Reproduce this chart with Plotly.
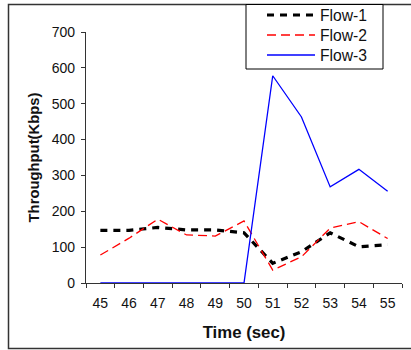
import plotly.graph_objects as go

# ---- data ----
times = ["45", "46", "47", "48", "49", "50", "51", "52", "53", "54", "55"]
flow1 = [147, 147, 155, 148, 148, 140, 55, 87, 140, 101, 107]
flow2 = [78, 125, 178, 134, 131, 173, 36, 73, 153, 171, 124]
flow3 = [0, 0, 0, 0, 0, 0, 578, 463, 268, 317, 256]
names = ["Flow-1", "Flow-2", "Flow-3"]
yticks = [0, 100, 200, 300, 400, 500, 600, 700]

series = [flow1, flow2, flow3]
styles = [
    dict(color="#000000", width=3.2, dash="7px,6px"),
    dict(color="#FF0000", width=1.3, dash="9px,5px"),
    dict(color="#0000FF", width=1.3, dash="solid"),
]

W, H = 411, 350
L, R, T, B = 86, 402, 32, 283  # plot area in pixels

def px(x):
    return (x - L) / (R - L)

def py(y):
    return (B - y) / (B - T)

fig = go.Figure()
for nm, vals, st in zip(names, series, styles):
    fig.add_trace(go.Scatter(x=times, y=vals, mode="lines", name=nm,
                             line=st, showlegend=False))

font_family = "Liberation Sans, Arial, sans-serif"
shapes = [
    # outer frame
    dict(type="rect", xref="paper", yref="paper",
         x0=px(8.5), x1=px(420), y0=py(348.5), y1=py(4.5),
         line=dict(color="#333333", width=1.5), layer="below"),
    # legend box
    dict(type="rect", xref="paper", yref="paper",
         x0=px(246), x1=px(383), y0=py(69), y1=py(4.5),
         line=dict(color="#000000", width=1), fillcolor="white"),
]
annotations = []
for i, (nm, st) in enumerate(zip(names, styles)):
    yy = 15 + 20 * i
    shapes.append(dict(type="line", xref="paper", yref="paper",
                       x0=px(267), x1=px(315), y0=py(yy), y1=py(yy),
                       line=st))
    annotations.append(dict(text=nm, xref="paper", yref="paper",
                            x=px(318), y=py(yy), xanchor="left",
                            yanchor="middle", showarrow=False,
                            font=dict(size=15.7, color="#111",
                                      family=font_family)))

fig.update_layout(
    width=W, height=H,
    margin=dict(l=L, r=W - R, t=T, b=H - B, pad=0),
    paper_bgcolor="white", plot_bgcolor="white",
    font=dict(family=font_family, size=14, color="#111"),
    shapes=shapes, annotations=annotations,
    showlegend=False,
)
fig.update_xaxes(
    type="category", range=[-0.5, 10.5], tickson="boundaries",
    ticks="outside", ticklen=4, tickcolor="#333", tickwidth=1,
    showline=True, linecolor="#333", linewidth=1.2,
    showgrid=False, zeroline=False, ticklabelstandoff=7,
    tickfont=dict(size=14, color="#111"),
    title=dict(text="<b>Time (sec)</b>", font=dict(size=16.8, color="#111"),
               standoff=16),
)
fig.update_yaxes(
    range=[0, 700], tickvals=yticks, ticktext=[str(v) for v in yticks],
    ticks="outside", ticklen=4, tickcolor="#333", tickwidth=1,
    showline=True, linecolor="#333", linewidth=1.2,
    showgrid=False, zeroline=False, ticklabelstandoff=3,
    tickfont=dict(size=14, color="#111"),
    title=dict(text="<b>Throughput(Kbps)</b>",
               font=dict(size=14.8, color="#111"), standoff=8),
)

fig.write_html("out.html")
